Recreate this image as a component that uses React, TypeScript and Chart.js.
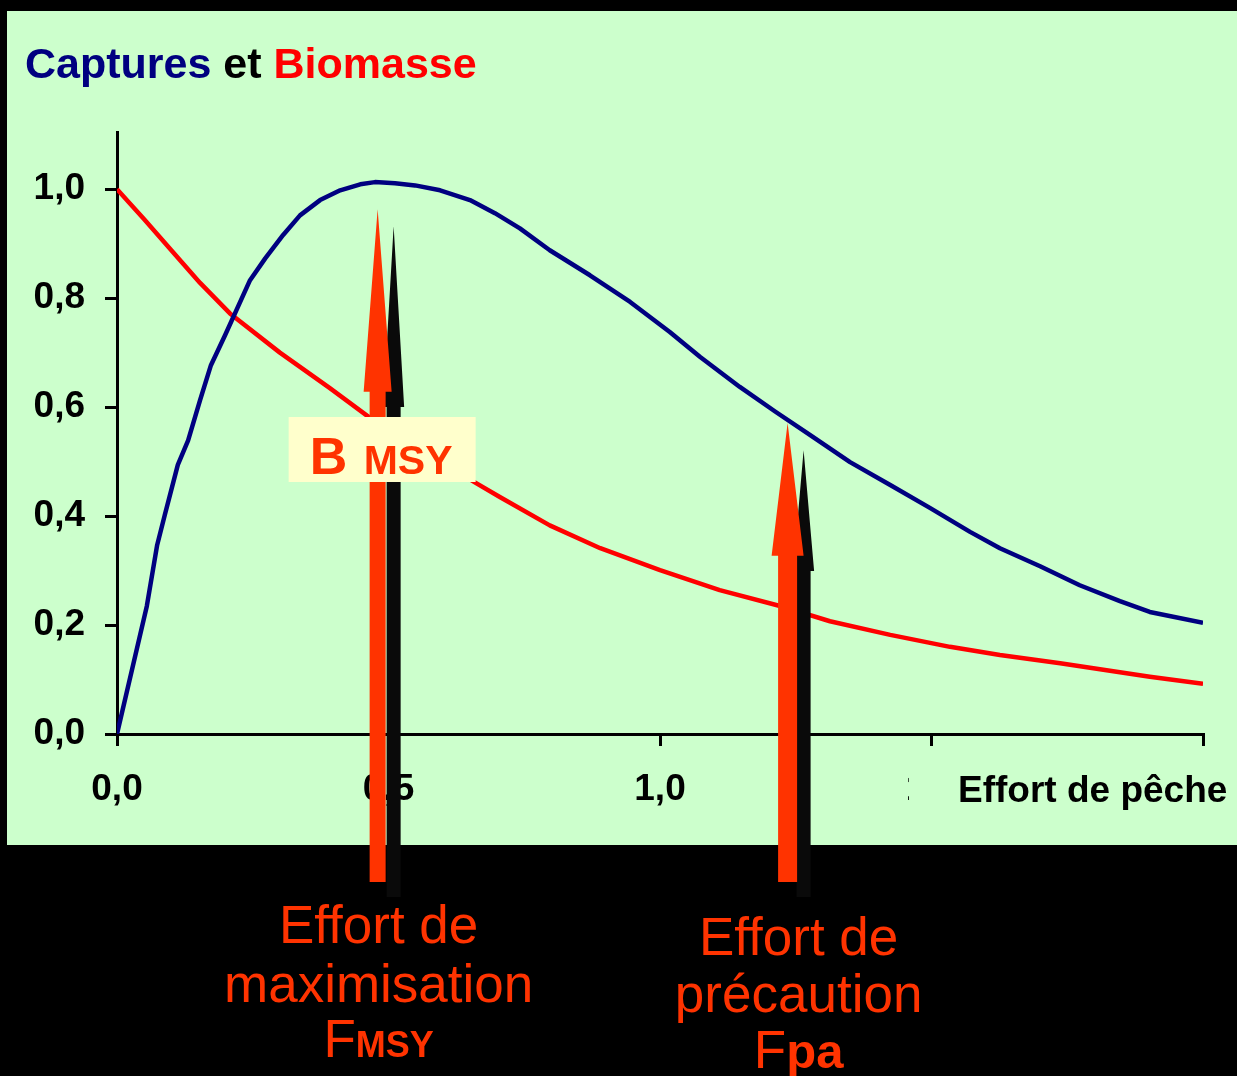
import React, { useEffect, useRef } from 'react';
import { Chart, registerables } from 'chart.js';

Chart.register(...registerables);

// ---- Data ----
const catchEffort = [0, 0.055, 0.074, 0.088, 0.112, 0.131, 0.153, 0.173, 0.199, 0.245, 0.273, 0.306, 0.337, 0.374, 0.411, 0.448, 0.475, 0.512, 0.549, 0.595, 0.65, 0.696, 0.742, 0.797, 0.871, 0.945, 1.018, 1.074, 1.147, 1.212, 1.276, 1.35, 1.424, 1.497, 1.571, 1.626, 1.7, 1.773, 1.847, 1.902, 2.0];
const captures = [0, 0.235, 0.347, 0.402, 0.494, 0.539, 0.613, 0.677, 0.732, 0.833, 0.873, 0.916, 0.952, 0.98, 0.998, 1.009, 1.013, 1.011, 1.007, 0.998, 0.98, 0.956, 0.928, 0.888, 0.842, 0.793, 0.738, 0.692, 0.637, 0.592, 0.549, 0.499, 0.457, 0.415, 0.371, 0.341, 0.308, 0.273, 0.244, 0.224, 0.204];

const biomassEffort = [0, 0.05, 0.1, 0.153, 0.208, 0.3, 0.392, 0.484, 0.595, 0.659, 0.705, 0.797, 0.89, 1.0, 1.11, 1.221, 1.313, 1.424, 1.534, 1.626, 1.737, 1.902, 2.0];
const biomasse = [1.0, 0.945, 0.888, 0.828, 0.772, 0.7, 0.635, 0.567, 0.501, 0.462, 0.435, 0.383, 0.341, 0.301, 0.264, 0.235, 0.207, 0.182, 0.16, 0.145, 0.13, 0.105, 0.092];

const xTickValues = [0, 0.5, 1.0, 1.5, 2.0];
const yTickValues = [0, 0.2, 0.4, 0.6, 0.8, 1.0];

// reference efforts (Fmsy, Fpa) and arrow tips / head bases in y-units
const refEfforts = [0.48, 1.235];
const orangeTips = [0.963, 0.571];
const orangeHeadBases = [0.628, 0.327];
const blackTips = [0.932, 0.521];
const blackHeadBases = [0.6, 0.299];

const FONT = '"Liberation Sans", Arial, Helvetica, sans-serif';
const PANEL = '#CCFFCC';
const ORANGE = '#FF3300';

const fmt = (v: number) => v.toFixed(1).replace('.', ',');

function drawArrow(ctx: CanvasRenderingContext2D, cx: number, tipY: number, baseY: number, bottomY: number, shaftW: number, headW: number, color: string) {
  ctx.fillStyle = color;
  ctx.beginPath();
  ctx.moveTo(cx, tipY);
  ctx.lineTo(cx + headW / 2, baseY);
  ctx.lineTo(cx + shaftW / 2, baseY);
  ctx.lineTo(cx + shaftW / 2, bottomY);
  ctx.lineTo(cx - shaftW / 2, bottomY);
  ctx.lineTo(cx - shaftW / 2, baseY);
  ctx.lineTo(cx - headW / 2, baseY);
  ctx.closePath();
  ctx.fill();
}

function drawRuns(ctx: CanvasRenderingContext2D, runs: { text: string; font: string }[], cx: number, baseline: number, color: string) {
  let total = 0;
  const widths = runs.map((r) => {
    ctx.font = r.font;
    const w = ctx.measureText(r.text).width;
    total += w;
    return w;
  });
  let x = cx - total / 2;
  ctx.fillStyle = color;
  ctx.textAlign = 'left';
  ctx.textBaseline = 'alphabetic';
  runs.forEach((r, i) => {
    ctx.font = r.font;
    ctx.fillText(r.text, x, baseline);
    x += widths[i];
  });
}

const overlayPlugin = {
  id: 'overlay',
  beforeDraw(chart: any) {
    const ctx: CanvasRenderingContext2D = chart.ctx;
    ctx.save();
    ctx.fillStyle = '#000000';
    ctx.fillRect(0, 0, chart.width, chart.height);
    ctx.fillStyle = PANEL;
    ctx.fillRect(7, 11, chart.width - 7, 834);
    // title
    ctx.font = `bold 43px ${FONT}`;
    ctx.textBaseline = 'alphabetic';
    ctx.textAlign = 'left';
    const parts = [
      { text: 'Captures ', color: '#000080' },
      { text: 'et ', color: '#000000' },
      { text: 'Biomasse', color: '#FF0000' },
    ];
    let x = 25;
    for (const p of parts) {
      ctx.fillStyle = p.color;
      ctx.fillText(p.text, x, 78);
      x += ctx.measureText(p.text).width;
    }
    ctx.restore();
  },
  afterDraw(chart: any) {
    const ctx: CanvasRenderingContext2D = chart.ctx;
    const xs = chart.scales.x;
    const ys = chart.scales.y;
    const area = chart.chartArea;
    ctx.save();

    // axis title with its own panel-coloured box (hides most of the 1,5 label)
    ctx.fillStyle = PANEL;
    ctx.fillRect(909, area.bottom + 28, chart.width - 909, 60);
    ctx.fillStyle = '#000000';
    ctx.font = `bold 37px ${FONT}`;
    ctx.textAlign = 'left';
    ctx.textBaseline = 'alphabetic';
    ctx.fillText('Effort de pêche', 958, 802);

    // arrows
    const ax = refEfforts.map((e) => xs.getPixelForValue(e));
    for (let i = 0; i < ax.length; i++) {
      drawArrow(ctx, ax[i] + 16, ys.getPixelForValue(blackTips[i]), ys.getPixelForValue(blackHeadBases[i]), area.bottom + 163, 14, 21, '#0A0A0A');
      drawArrow(ctx, ax[i], ys.getPixelForValue(orangeTips[i]), ys.getPixelForValue(orangeHeadBases[i]), area.bottom + 148, i === 0 ? 16 : 19, i === 0 ? 28 : 32, ORANGE);
    }

    // B MSY box
    ctx.fillStyle = '#FFFFCC';
    ctx.fillRect(ax[0] - 89, 417, 187, 65);
    ctx.fillStyle = ORANGE;
    ctx.textAlign = 'left';
    ctx.textBaseline = 'alphabetic';
    ctx.font = `bold 52px ${FONT}`;
    ctx.fillText('B', ax[0] - 68, 474);
    ctx.font = `bold 41px ${FONT}`;
    ctx.fillText('MSY', ax[0] - 14, 474);

    // bottom labels
    const lf = `53px ${FONT}`;
    const c1 = ax[0] + 1;
    drawRuns(ctx, [{ text: 'Effort de', font: lf }], c1, 943, ORANGE);
    drawRuns(ctx, [{ text: 'maximisation', font: lf }], c1, 1002, ORANGE);
    drawRuns(ctx, [{ text: 'F', font: lf }, { text: 'MSY', font: `bold 36px ${FONT}` }], c1, 1057, ORANGE);

    const c2 = ax[1] + 11;
    drawRuns(ctx, [{ text: 'Effort de', font: lf }], c2, 955, ORANGE);
    drawRuns(ctx, [{ text: 'précaution', font: lf }], c2, 1012, ORANGE);
    drawRuns(ctx, [{ text: 'F', font: lf }, { text: 'pa', font: `bold 49px ${FONT}` }], c2, 1068, ORANGE);

    ctx.restore();
  },
};

export default function App() {
  const canvasRef = useRef<HTMLCanvasElement | null>(null);

  useEffect(() => {
    if (!canvasRef.current) return;
    const tickFont = { family: FONT, size: 37, weight: 'bold' as const, lineHeight: 1.2 };
    const chart = new Chart(canvasRef.current, {
      type: 'line',
      data: {
        datasets: [
          {
            label: 'Captures',
            data: catchEffort.map((e, i) => ({ x: e, y: captures[i] })),
            borderColor: '#000080',
            borderWidth: 4.5,
            pointRadius: 0,
            tension: 0,
            fill: false,
            borderJoinStyle: 'round',
          },
          {
            label: 'Biomasse',
            data: biomassEffort.map((e, i) => ({ x: e, y: biomasse[i] })),
            borderColor: '#FF0000',
            borderWidth: 4.5,
            pointRadius: 0,
            tension: 0,
            fill: false,
            borderJoinStyle: 'round',
          },
        ],
      },
      options: {
        responsive: false,
        animation: false,
        devicePixelRatio: 1,
        layout: { padding: { top: 132, right: 34, bottom: 242, left: 0 } },
        plugins: {
          legend: { display: false },
          tooltip: { enabled: false },
          title: { display: false },
        },
        scales: {
          x: {
            type: 'linear',
            min: 0,
            max: 2,
            afterFit: (s: any) => { s.height = 100; },
            afterBuildTicks: (s: any) => { s.ticks = xTickValues.map((v) => ({ value: v })); },
            border: { display: true, color: '#000000', width: 3 },
            grid: { drawOnChartArea: false, drawTicks: true, tickLength: 12, color: '#000000', lineWidth: 3 },
            ticks: {
              autoSkip: false,
              maxRotation: 0,
              padding: 22,
              color: '#000000',
              font: tickFont,
              callback: (v: any) => (Number(v) === 2 ? '' : fmt(Number(v))),
            },
          },
          y: {
            type: 'linear',
            min: 0,
            max: 1.105,
            afterFit: (s: any) => { s.width = 117; },
            afterBuildTicks: (s: any) => { s.ticks = yTickValues.map((v) => ({ value: v })); },
            border: { display: true, color: '#000000', width: 3 },
            grid: { drawOnChartArea: false, drawTicks: true, tickLength: 12, color: '#000000', lineWidth: 3 },
            ticks: {
              padding: 20,
              color: '#000000',
              font: tickFont,
              callback: (v: any) => fmt(Number(v)),
            },
          },
        },
      },
      plugins: [overlayPlugin],
    } as any);
    return () => chart.destroy();
  }, []);

  return (
    <div style={{ position: 'absolute', left: 0, top: 0, width: 1237, height: 1076, background: '#000', overflow: 'hidden' }}>
      <canvas ref={canvasRef} width={1237} height={1076} style={{ display: 'block', width: 1237, height: 1076 }} />
    </div>
  );
}
